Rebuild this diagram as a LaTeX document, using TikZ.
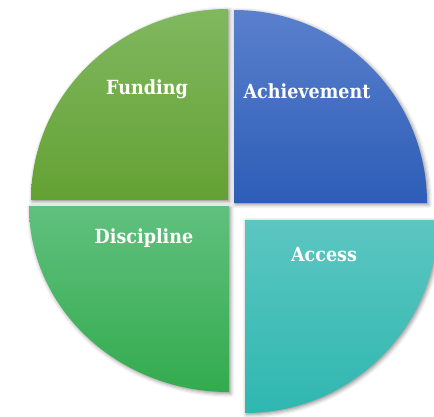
\documentclass[tikz,border=0pt]{standalone}
\usepackage{fontspec}
\setmainfont{DejaVu Serif}
\newfontfamily\labelfont{DejaVu Serif Condensed}
\usetikzlibrary{shadows.blur}
\definecolor{fundtop}{HTML}{80B860}
\definecolor{fundbot}{HTML}{64A133}
\definecolor{achtop}{HTML}{5A80CD}
\definecolor{achbot}{HTML}{2D5DB7}
\definecolor{disctop}{HTML}{60C07E}
\definecolor{discbot}{HTML}{33AB4E}
\definecolor{acctop}{HTML}{5CC6C1}
\definecolor{accbot}{HTML}{2FB7B0}

\begin{document}
\begin{tikzpicture}[
  x=1pt, y=1pt,
  sector/.style={blur shadow={shadow xshift=1.5pt, shadow yshift=-1.5pt,
                 shadow blur radius=4pt, shadow opacity=45}},
  lbl/.style={text=white, font=\labelfont\bfseries\fontsize{19.5}{22}\selectfont, inner sep=0pt}
]
\useasboundingbox (0,0) rectangle (434,416);
\clip (0,0) rectangle (434,416);

% four quarters
\path[sector, top color=fundtop, bottom color=fundbot]
  (228,216) -- ++(-197,0) arc[start angle=180, end angle=90, x radius=197, y radius=191] -- cycle;
\path[sector, top color=achtop, bottom color=achbot]
  (234,213) -- ++(0,193) arc[start angle=90, end angle=0, radius=193] -- cycle;
\path[sector, top color=disctop, bottom color=discbot]
  (229,210) -- ++(-200,0) arc[start angle=180, end angle=270, x radius=200, y radius=186] -- cycle;
\path[sector, top color=acctop, bottom color=accbot]
  (245,196) -- ++(193,0) arc[start angle=0, end angle=-90, radius=193] -- cycle;

% labels
\node[lbl] (funding)     at (147,327) {Funding};
\node[lbl] (achievement) at (307,325) {Achievement};
\node[lbl] (discipline)  at (144,178) {Discipline};
\node[lbl] (access)      at (324,161) {Access};

\end{tikzpicture}
\end{document}
